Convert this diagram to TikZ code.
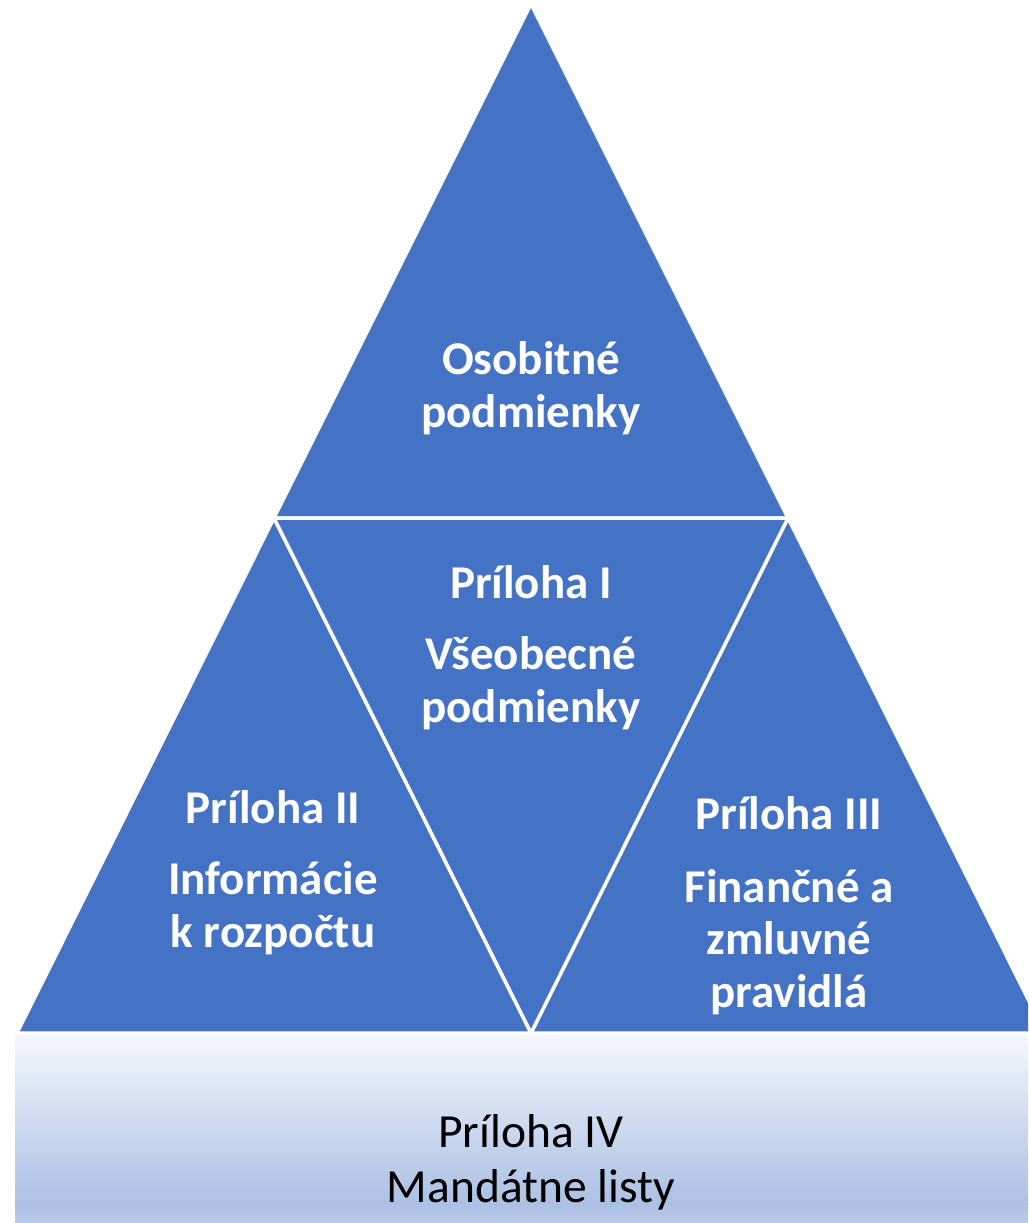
\documentclass[tikz,border=0pt]{standalone}
\usepackage{fontspec}
\setmainfont{Carlito}
\definecolor{triblue}{HTML}{4472C4}
\definecolor{boxtop}{HTML}{F5F7FC}
\definecolor{boxmid}{HTML}{ABC0E4}
\definecolor{boxbot}{HTML}{BACBE9}
\tikzset{
  tri/.style={fill=triblue, draw=white, line width=3.5pt, line join=round},
  tlabel/.style={text=white, font=\fontsize{47}{52.5}\selectfont\bfseries, align=center, anchor=base, inner sep=0pt},
  blabel/.style={text=black, font=\fontsize{47.5}{55}\selectfont, align=center, anchor=base, inner sep=0pt}
}
\begin{document}
\begin{tikzpicture}[x=1pt,y=-1pt]
\useasboundingbox (0,0) rectangle (1028,1223);
\clip (0,0) rectangle (1028,1223);
% corner points
\coordinate (A) at (531,4);
\coordinate (B) at (274,518);
\coordinate (C) at (788,518);
\coordinate (D) at (17,1033);
\coordinate (E) at (531,1033);
\coordinate (F) at (1045,1033);
% bottom box
\shade[top color=boxtop, bottom color=boxmid] (15,1033) rectangle (1045,1204);
\shade[top color=boxmid, bottom color=boxbot] (15,1203.5) rectangle (1045,1224);
% triangles
\filldraw[tri] (A) -- (B) -- (C) -- cycle;
\filldraw[tri] (B) -- (D) -- (E) -- cycle;
\filldraw[tri] (C) -- (E) -- (F) -- cycle;
\filldraw[tri] (B) -- (C) -- (E) -- cycle;
% labels (anchored at the baseline of their last line)
\node[tlabel] (top) at (531,427) {Osobitné\\podmienky};
\node[tlabel] (midhead) at (531,598) {Príloha I};
\node[tlabel] (mid) at (531,722) {Všeobecné\\podmienky};
\node[tlabel] (lefthead) at (273,823) {Príloha II};
\node[tlabel] (left) at (273,947) {Informácie\\k rozpočtu};
\node[tlabel] (righthead) at (789,829) {Príloha III};
\node[tlabel] (right) at (789,1007) {Finančné a\\zmluvné\\pravidlá};
\node[blabel] (bottom) at (531,1202) {Príloha IV\\Mandátne listy};
\end{tikzpicture}
\end{document}
